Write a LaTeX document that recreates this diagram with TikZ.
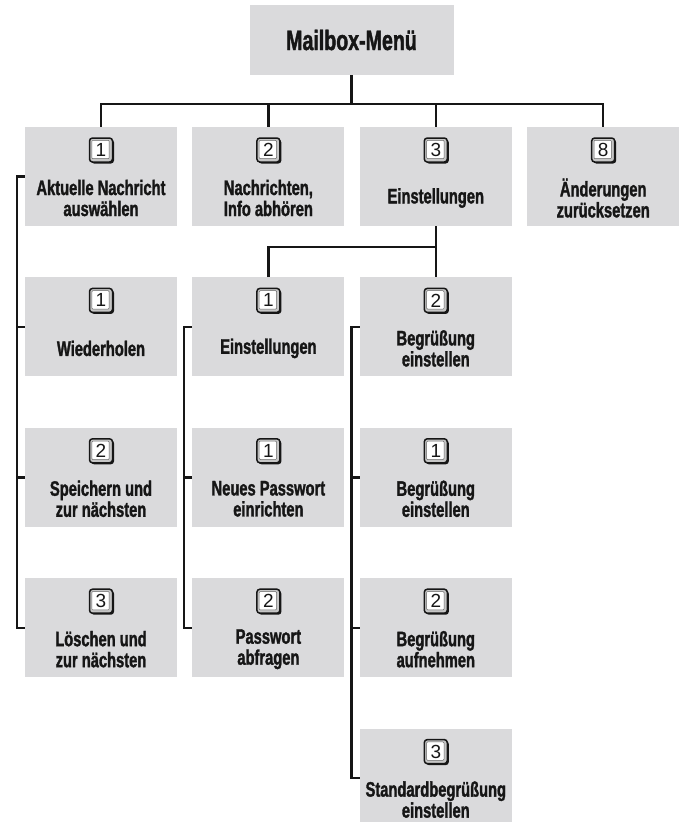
\documentclass[tikz,border=0pt]{standalone}
\usepackage{fontspec}
\setmainfont{Liberation Sans}[FakeStretch=0.7, BoldFeatures={FakeBold=1.5}]
\newfontfamily\keyfont{Liberation Sans}
\usepackage{tikz}
\usetikzlibrary{positioning,shadows}
\definecolor{boxgray}{RGB}{218,218,220}
\definecolor{inkblack}{RGB}{22,22,22}
\tikzset{
    menubox/.style={rectangle, fill=boxgray, minimum width=152pt, minimum height=99pt, inner sep=0pt},
    topbox/.style={rectangle, fill=boxgray, minimum width=204pt, minimum height=70pt, font=\fontsize{28}{30}\selectfont\bfseries, text=inkblack},
    keycap/.style={rectangle, rounded corners=3pt, draw=inkblack, line width=1.5pt, fill=gray!45, minimum width=23pt, minimum height=24pt, inner sep=0pt, text=inkblack, font=\keyfont\fontsize{19}{19}\selectfont,
        drop shadow={shadow xshift=1.5pt, shadow yshift=-1.5pt, fill=inkblack, opacity=1},
        path picture={\draw[black!60, line width=0.5pt, fill=white, rounded corners=1pt] ([shift={(2.3pt,3.3pt)}]path picture bounding box.south west) rectangle ([shift={(-3.3pt,-2.3pt)}]path picture bounding box.north east);}},
    boxtext/.style={align=center, font=\fontsize{21}{21}\selectfont\bfseries, text=inkblack, inner sep=0pt},
    keylabel/.style={label={[keycap, yshift=26.5pt]center:#1}},
    boxlabel/.style={label={[boxtext, yshift=-21.5pt]center:{#1}}},
    tree line/.style={line width=2.4pt, draw=inkblack}
}

\begin{document}
\begin{tikzpicture}[x=1pt, y=1pt, node distance=51pt and 15pt]
\useasboundingbox (0,0) rectangle (681,-822);
% Main menu
\node[topbox] (menu) at (351.5,-40) {Mailbox-Menü};

% First level
\node[menubox, keylabel=1, boxlabel={Aktuelle Nachricht\\auswählen}] (a1) at (101,-176.5) {};
\node[menubox, keylabel=2, boxlabel={Nachrichten,\\Info abhören}, right=of a1] (a2) {};
\node[menubox, keylabel=3, boxlabel={Einstellungen}, right=of a2] (a3) {};
\node[menubox, keylabel=8, boxlabel={Änderungen\\zurücksetzen}, right=of a3] (a4) {};

% Current message
\node[menubox, keylabel=1, boxlabel={Wiederholen}, below=of a1] (c1) {};
\node[menubox, keylabel=2, boxlabel={Speichern und\\zur nächsten}, below=of c1] (c2) {};
\node[menubox, keylabel=3, boxlabel={Löschen und\\zur nächsten}, below=of c2] (c3) {};

% Settings
\node[menubox, keylabel=1, boxlabel={Einstellungen}, below=of a2] (b1) {};
\node[menubox, keylabel=1, boxlabel={Neues Passwort\\einrichten}, below=of b1] (d1) {};
\node[menubox, keylabel=2, boxlabel={Passwort\\abfragen}, below=of d1] (d2) {};

\node[menubox, keylabel=2, boxlabel={Begrüßung\\einstellen}, below=of a3] (b2) {};
\node[menubox, keylabel=1, boxlabel={Begrüßung\\einstellen}, below=of b2] (e1) {};
\node[menubox, keylabel=2, boxlabel={Begrüßung\\aufnehmen}, below=of e1] (e2) {};
\node[menubox, keylabel=3, boxlabel={Standardbegrüßung\\einstellen}, below=of e2] (e3) {};

% Tree lines
\draw[tree line] (menu.south) -- ++(0,-29) coordinate (hub);
\draw[tree line] (a1.north) |- (hub) -| (a4.north);
\draw[tree line] (a2.north) -- (a2.north |- hub);
\draw[tree line] (a3.north) -- (a3.north |- hub);

\draw[tree line] (a3.south) -- ++(0,-21) coordinate (hub3);
\draw[tree line] (b1.north) |- (hub3) -- (b2.north);

% Side brackets
\draw[tree line] (a1.west) -- ++(-8,0) coordinate (rail1) |- (c3.west);
\draw[tree line] (c1.west) -- (c1.west -| rail1);
\draw[tree line] (c2.west) -- (c2.west -| rail1);

\draw[tree line] (b1.west) -- ++(-8,0) coordinate (rail2) |- (d2.west);
\draw[tree line] (d1.west) -- (d1.west -| rail2);

\draw[tree line] (b2.west) -- ++(-8,0) coordinate (rail3) |- (e3.west);
\draw[tree line] (e1.west) -- (e1.west -| rail3);
\draw[tree line] (e2.west) -- (e2.west -| rail3);
\end{tikzpicture}
\end{document}
